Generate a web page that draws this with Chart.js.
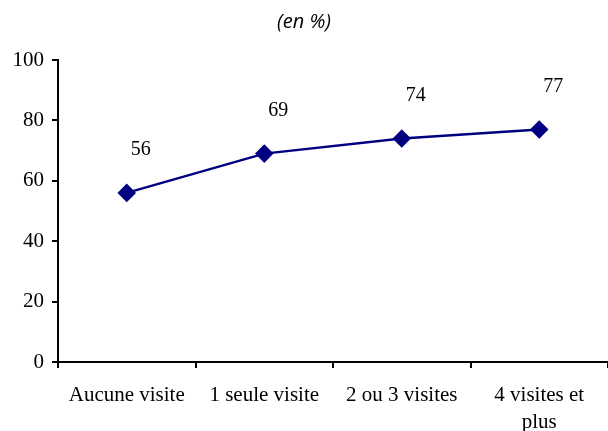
<!DOCTYPE html>
<html>
<head>
<meta charset="utf-8">
<script src="https://cdn.jsdelivr.net/npm/chart.js@4/dist/chart.umd.min.js"></script>
<style>
  html, body { margin: 0; padding: 0; background: #fff; }
  #wrap { width: 608px; height: 431px; }
</style>
</head>
<body>
<div id="wrap"><canvas id="graf" width="608" height="431"></canvas></div>
<script>
// données
const categories = ['Aucune visite', '1 seule visite', '2 ou 3 visites', ['4 visites et', 'plus']];
const valeurs = [56, 69, 74, 77];
const titre = '(en %)';

const serif = '"Liberation Serif", "Times New Roman", serif';

// étiquettes de valeur au-dessus des points
const etiquettes = {
    id: 'etiquettes',
    afterDatasetsDraw(chart) {
        const ctx = chart.ctx;
        const meta = chart.getDatasetMeta(0);
        ctx.save();
        ctx.font = '20px ' + serif;
        ctx.fillStyle = '#000';
        ctx.textAlign = 'center';
        ctx.textBaseline = 'middle';
        meta.data.forEach(function (pt, i) {
            ctx.fillText(String(valeurs[i]), pt.x + 14, pt.y - 43);
        });
        ctx.restore();
    }
};

new Chart(document.getElementById('graf').getContext('2d'), {
    type: 'line',
    data: {
        labels: categories,
        datasets: [{
            data: valeurs,
            borderColor: '#000080',
            backgroundColor: '#000080',
            borderWidth: 2.5,
            pointStyle: 'rectRot',
            pointRadius: 7.5,
            pointHoverRadius: 7.5,
            tension: 0,
            clip: false
        }]
    },
    options: {
        responsive: false,
        animation: false,
        layout: { padding: 0, autoPadding: false },
        plugins: {
            legend: { display: false },
            tooltip: { enabled: false },
            title: {
                display: true,
                text: titre,
                color: '#000',
                font: { family: '"Open Sans", "DejaVu Sans", sans-serif', size: 20, style: 'italic', weight: 'normal', lineHeight: 1.2 },
                padding: { top: 10, bottom: 26 }
            }
        },
        scales: {
            x: {
                offset: true,
                border: { color: '#000', width: 2 },
                grid: { drawOnChartArea: false, drawTicks: true, color: '#000', lineWidth: 2, tickLength: 6, offset: true },
                ticks: { color: '#000', font: { family: serif, size: 21, lineHeight: 1.3 }, padding: 14, maxRotation: 0, autoSkip: false },
                afterFit: function (s) {
                    s.height = 69;
                    s.paddingLeft = 0;
                    s.paddingRight = 0;
                }
            },
            y: {
                min: 0,
                max: 100,
                border: { color: '#000', width: 2 },
                grid: { drawOnChartArea: false, drawTicks: true, color: '#000', lineWidth: 2, tickLength: 6 },
                ticks: { stepSize: 20, color: '#000', font: { family: serif, size: 21 }, padding: 8 },
                afterFit: function (s) { s.width = 58; }
            }
        }
    },
    plugins: [etiquettes]
});
</script>
</body>
</html>
